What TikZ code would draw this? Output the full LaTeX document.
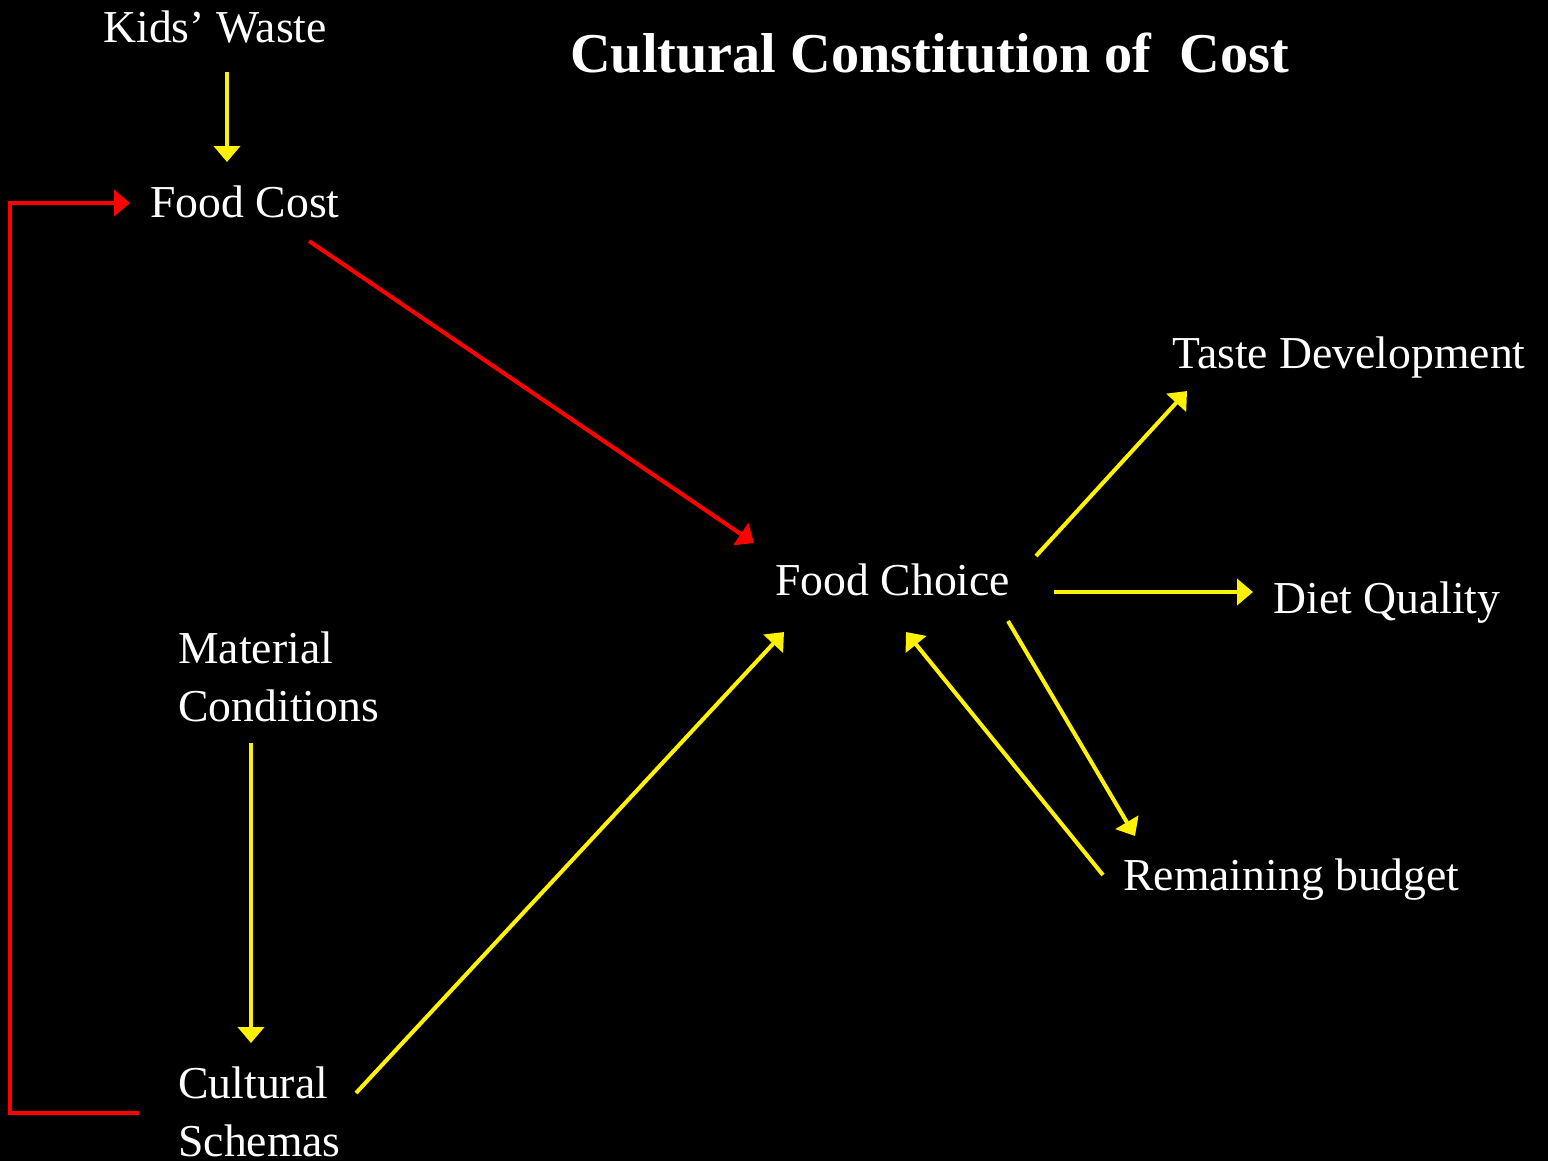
\documentclass[tikz,border=0pt]{standalone}
\usepackage{fontspec}
\setmainfont{Liberation Serif}
\usetikzlibrary{
		calc,
		positioning,
		arrows.meta
	}
\tikzset{
		>={Triangle[length=3.2mm,width=5.2mm]}
	}

\begin{document}
\begin{tikzpicture}[x=0.02cm, y=-0.02cm,
		lbl/.style={text=white, inner sep=0, font=\fontsize{26}{33}\selectfont, align=left},
		yarr/.style={draw=yellow, line width=2.3pt, ->},
		rarr/.style={draw=red, line width=2.3pt, ->}]
	\fill[black] (0,0) rectangle (1548,1161);
	\node[text=white, inner sep=0, anchor=base west, font=\fontsize{32}{38}\selectfont\bfseries] (title) at (570,72) {Cultural Constitution of \ Cost};
	\node[lbl, anchor=base west] (waste) at (103,42) {Kids’ Waste};
	\node[lbl, anchor=base west] (cost) at (150,217) {Food Cost};
	\node[lbl, anchor=base west] (choice) at (775,595) {Food Choice};
	\node[lbl, anchor=base west] (taste) at (1172,368) {Taste Development};
	\node[lbl, anchor=base west] (diet) at (1273,613) {Diet Quality};
	\node[lbl, anchor=base west] (budget) at (1123,890) {Remaining budget};
	\node[lbl, anchor=north west] (material) at (178,631) {Material\\Conditions};
	\node[lbl, anchor=north west] (cultural) at (178,1066) {Cultural\\Schemas};
	\draw[yarr] ($(waste.base west)+(124,30)$) -- ($(cost.base west)+(77,-55)$);
	\draw[rarr] ($(cultural.north west)+(-39,47)$) -| ($(cost.base west)+(-140,-14)$) -- ($(cost.base west)+(-20,-14)$); % feedback loop
	\draw[rarr] ($(cost.base west)+(159,24)$) -- ($(choice.base west)+(-21,-52)$);
	\draw[yarr] ($(material.north west)+(73,112)$) -- ($(cultural.north west)+(73,-23)$);
	\draw[yarr] ($(cultural.north west)+(178,27)$) -- ($(choice.base west)+(9,37)$);
	\draw[yarr] ($(choice.base west)+(261,-39)$) -- ($(taste.base west)+(15,23)$);
	\draw[yarr] ($(choice.base west)+(279,-3)$) -- ($(diet.base west)+(-20,-21)$);
	\draw[yarr] ($(choice.base west)+(233,26)$) -- ($(budget.base west)+(12,-54)$);
	\draw[yarr] ($(budget.base west)+(-20,-15)$) -- ($(choice.base west)+(131,37)$);
\end{tikzpicture}
\end{document}
